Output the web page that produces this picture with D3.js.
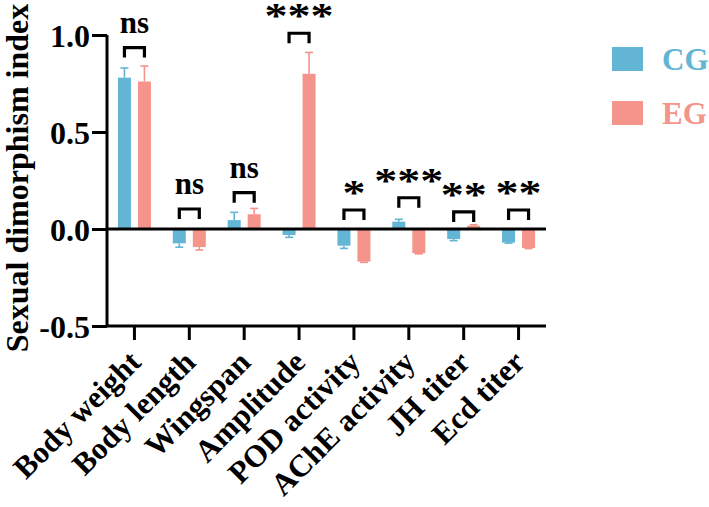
<!DOCTYPE html>
<meta charset="utf-8">
<script src="https://d3js.org/d3.v7.min.js"></script>
<style>
  body { margin: 0; background: #fff; }
  text { font-family: "Liberation Serif", "Times New Roman", serif; font-weight: bold; }
</style>
<body>
<div id="chart"></div>
<script>

// data
var categories = ["Body weight", "Body length", "Wingspan", "Amplitude",
                  "POD activity", "AChE activity", "JH titer", "Ecd titer"];
var groups = ["CG", "EG"];
var cgMean = [0.78, -0.074, 0.046, -0.031, -0.086, 0.038, -0.052, -0.070];
var cgErr  = [0.05,  0.020, 0.040,  0.012,  0.014, 0.012,  0.008,  0.003];
var egMean = [0.76, -0.093, 0.076,  0.80,  -0.168, -0.125, 0.017, -0.098];
var egErr  = [0.08,  0.015, 0.030,  0.11,   0.004,  0.003, 0.005,  0.003];
var signif = ["ns", "ns", "ns", "***", "*", "***", "**", "**"];
var bracketLevel = [0.935, 0.103, 0.187, 1.009, 0.098, 0.161, 0.088, 0.098];
var yTicks = [-0.5, 0.0, 0.5, 1.0];

var colors = {CG: "#63b5d5", EG: "#f4948b"};

var width = 709, height = 507;

var svg = d3.select("#chart")
  .append("svg")
    .attr("width", width)
    .attr("height", height);

var x = d3.scaleBand()
  .domain(categories)
  .range([107, 546]);

var y = d3.scaleLinear()
  .domain([-0.5, 1.0])
  .range([326, 35]);

var barW = 13, gap = 7;
function barX(i, g) {
  var c = x(categories[i]) + x.bandwidth() / 2;
  return g === "CG" ? c - gap / 2 - barW : c + gap / 2;
}

var rows = [];
categories.forEach(function(c, i) {
  rows.push({i: i, g: "CG", v: cgMean[i], e: cgErr[i]});
  rows.push({i: i, g: "EG", v: egMean[i], e: egErr[i]});
});

// error bars (outer side only)
var eb = svg.append("g").selectAll("g").data(rows).enter().append("g")
  .attr("stroke", function(d) { return colors[d.g]; })
  .attr("stroke-width", 1.6);
eb.append("line")
  .attr("x1", function(d) { return barX(d.i, d.g) + barW / 2; })
  .attr("x2", function(d) { return barX(d.i, d.g) + barW / 2; })
  .attr("y1", function(d) { return y(d.v); })
  .attr("y2", function(d) { return y(d.v + (d.v >= 0 ? d.e : -d.e)); });
eb.append("line")
  .attr("x1", function(d) { return barX(d.i, d.g) + barW / 2 - 4; })
  .attr("x2", function(d) { return barX(d.i, d.g) + barW / 2 + 4; })
  .attr("y1", function(d) { return y(d.v + (d.v >= 0 ? d.e : -d.e)); })
  .attr("y2", function(d) { return y(d.v + (d.v >= 0 ? d.e : -d.e)); });

// bars
svg.append("g").selectAll("rect").data(rows).enter().append("rect")
  .attr("x", function(d) { return barX(d.i, d.g); })
  .attr("width", barW)
  .attr("y", function(d) { return y(Math.max(0, d.v)); })
  .attr("height", function(d) { return Math.abs(y(d.v) - y(0)); })
  .attr("fill", function(d) { return colors[d.g]; });

// y axis
var yAxis = svg.append("g")
  .attr("transform", "translate(107,0)")
  .call(d3.axisLeft(y).tickValues(yTicks)
    .tickFormat(function(d) { return d3.format(".1f")(d).replace("\u2212", "-"); })
    .tickSize(15).tickPadding(2));
yAxis.select(".domain").attr("stroke-width", 3).attr("d", "M0," + y(1.0) + "V" + y(-0.5));
yAxis.selectAll(".tick line").attr("stroke-width", 3);
yAxis.selectAll(".tick text")
  .attr("font-size", 32)
  .attr("font-family", "Liberation Serif")
  .attr("font-weight", "bold")
  .attr("fill", "#000")
  .attr("dy", "0.35em");

// x axis
var xAxis = svg.append("g")
  .attr("transform", "translate(0,326)")
  .call(d3.axisBottom(x).tickSize(14).tickFormat(""));
xAxis.select(".domain").attr("stroke-width", 3).attr("d", "M107,0H546");
xAxis.selectAll(".tick line").attr("stroke-width", 3);

svg.append("g").selectAll("text").data(categories).enter().append("text")
  .attr("transform", function(d) {
    return "translate(" + (x(d) + x.bandwidth() / 2 + 8) + ",364) rotate(-45)";
  })
  .attr("text-anchor", "end")
  .attr("font-size", 31)
  .text(function(d) { return d; });

// zero line
svg.append("line")
  .attr("x1", 107).attr("x2", 546)
  .attr("y1", y(0)).attr("y2", y(0))
  .attr("stroke", "#000").attr("stroke-width", 3);

// y label
svg.append("text")
  .attr("transform", "translate(28,178) rotate(-90)")
  .attr("text-anchor", "middle")
  .attr("font-size", 32)
  .text("Sexual dimorphism index");

// significance brackets
var br = svg.append("g").selectAll("g").data(categories).enter().append("g");
br.append("path")
  .attr("fill", "none")
  .attr("stroke", "#000")
  .attr("stroke-width", 3.2)
  .attr("d", function(d, i) {
    var x1 = barX(i, "CG") + barW / 2, x2 = barX(i, "EG") + barW / 2;
    var yt = y(bracketLevel[i]);
    return "M" + x1 + "," + (yt + 10) + "V" + yt + "H" + x2 + "V" + (yt + 10);
  });
br.append("text")
  .attr("transform", function(d, i) {
    var cx = x(d) + x.bandwidth() / 2, yt = y(bracketLevel[i]);
    return signif[i] === "ns"
      ? "translate(" + cx + "," + (yt - 15) + ")"
      : "translate(" + cx + "," + (yt - 5) + ") scale(1,0.8)";
  })
  .attr("text-anchor", "middle")
  .attr("font-size", function(d, i) { return signif[i] === "ns" ? 31 : 46; })
  .attr("font-family", function(d, i) { return signif[i] === "ns" ? "Liberation Serif" : "DejaVu Sans"; })
  .text(function(d, i) { return signif[i]; });

// legend
var lg = svg.append("g").selectAll("g").data(groups).enter().append("g")
  .attr("transform", function(d, i) { return "translate(612," + (47 + i * 54) + ")"; });
lg.append("rect")
  .attr("width", 31).attr("height", 24)
  .attr("fill", function(d) { return colors[d]; });
lg.append("text")
  .attr("x", 50).attr("y", 23)
  .attr("font-size", 31)
  .attr("fill", function(d) { return colors[d]; })
  .text(function(d) { return d; });

</script>
</body>
